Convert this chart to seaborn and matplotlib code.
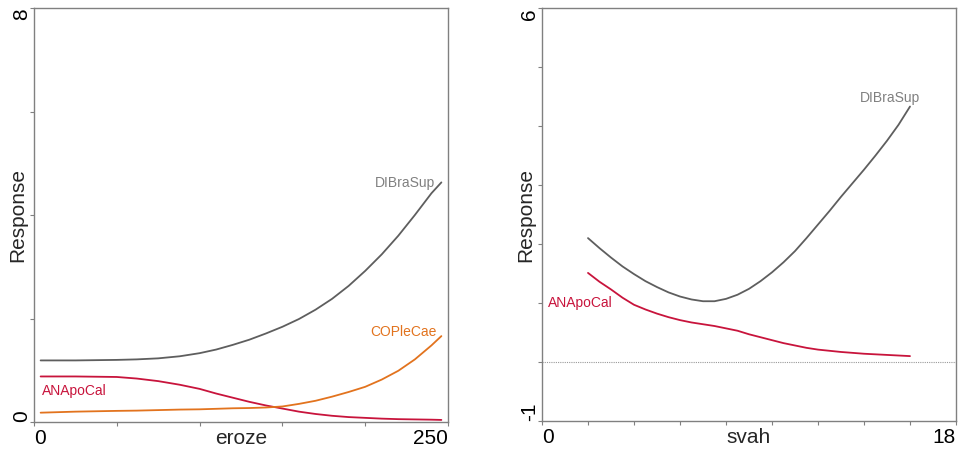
import matplotlib
matplotlib.use("Agg")
import matplotlib.pyplot as plt
import seaborn as sns
import pandas as pd

# levy panel - eroze
eroze_x = [4, 25, 50, 62, 75, 88, 100, 110, 120, 130, 140, 150, 160, 170, 180,
           190, 200, 210, 220, 230, 240, 246]
eroze_dibrasup = [1.19, 1.19, 1.20, 1.21, 1.23, 1.27, 1.33, 1.40, 1.49, 1.59, 1.71,
                  1.84, 1.99, 2.17, 2.38, 2.63, 2.92, 3.24, 3.60, 4.00, 4.42, 4.63]
eroze_anapocal = [0.88, 0.88, 0.87, 0.84, 0.79, 0.72, 0.64, 0.55, 0.47, 0.39, 0.32,
                  0.26, 0.20, 0.155, 0.12, 0.095, 0.08, 0.065, 0.055, 0.05, 0.045, 0.04]
eroze_coplecae = [0.18, 0.20, 0.215, 0.22, 0.23, 0.24, 0.245, 0.255, 0.265, 0.27, 0.28,
                  0.30, 0.35, 0.41, 0.49, 0.58, 0.68, 0.82, 0.99, 1.21, 1.48, 1.66]

# pravy panel - svah
svah_x = [2, 2.5, 3, 3.5, 4, 4.5, 5, 5.5, 6, 6.5, 7, 7.5, 8, 8.5, 9, 9.5, 10,
          10.5, 11, 11.5, 12, 12.5, 13, 13.5, 14, 14.5, 15, 15.5, 16]
svah_dibrasup = [2.10, 1.93, 1.77, 1.62, 1.49, 1.37, 1.27, 1.18, 1.11, 1.06, 1.03,
                 1.03, 1.07, 1.14, 1.24, 1.37, 1.52, 1.69, 1.88, 2.10, 2.33, 2.56,
                 2.80, 3.03, 3.26, 3.50, 3.75, 4.02, 4.33]
svah_anapocal = [1.51, 1.36, 1.23, 1.09, 0.97, 0.89, 0.82, 0.76, 0.71, 0.67, 0.64,
                 0.61, 0.57, 0.53, 0.47, 0.42, 0.37, 0.32, 0.28, 0.24, 0.21, 0.19,
                 0.17, 0.155, 0.14, 0.13, 0.12, 0.11, 0.10]

barvy = {"DIBraSup": "#5e5e5e", "ANApoCal": "#c8143c", "COPleCae": "#e2731e"}
barvy_popisku = {"DIBraSup": "#808080", "ANApoCal": "#c8143c", "COPleCae": "#e2731e"}

df1 = pd.DataFrame({
    "x": eroze_x * 3,
    "y": eroze_dibrasup + eroze_anapocal + eroze_coplecae,
    "druh": ["DIBraSup"] * len(eroze_x) + ["ANApoCal"] * len(eroze_x) + ["COPleCae"] * len(eroze_x),
})
df2 = pd.DataFrame({
    "x": svah_x * 2,
    "y": svah_dibrasup + svah_anapocal,
    "druh": ["DIBraSup"] * len(svah_x) + ["ANApoCal"] * len(svah_x),
})

sns.set_style("white")
plt.rcParams["font.family"] = ["Liberation Sans", "DejaVu Sans"]

fig = plt.figure(figsize=(9.61, 4.54), dpi=100)
ax1 = fig.add_axes([34 / 961, 32 / 454, 414 / 961, 414 / 454])
ax2 = fig.add_axes([542 / 961, 33 / 454, 414 / 961, 413 / 454])


def uprav_osu(ax, xlim, ylim, xt, yt, xlab):
    ax.set_xlim(*xlim)
    ax.set_ylim(*ylim)
    ax.set_xticks(xt)
    ax.set_yticks(yt)
    ax.set_xticklabels([str(xt[0])] + [""] * (len(xt) - 2) + [str(xt[-1])], fontsize=15)
    ax.set_yticklabels([str(yt[0])] + [""] * (len(yt) - 2) + [str(yt[-1])], fontsize=15,
                       rotation=90)
    xl = ax.get_xticklabels()
    xl[0].set_ha("left")
    xl[-1].set_ha("right")
    yl = ax.get_yticklabels()
    yl[0].set_va("bottom")
    yl[-1].set_va("top")
    for t in yl:
        t.set_ha("center")
    ax.tick_params(axis="both", direction="out", length=3, width=0.8, color="#808080",
                   pad=2, labelcolor="black", bottom=True, left=True)
    ax.tick_params(axis="y", pad=6)
    for s in ax.spines.values():
        s.set_color("#808080")
        s.set_linewidth(1.0)
    ax.set_xlabel(xlab, fontsize=15)
    ax.set_ylabel("Response", fontsize=15)
    ax.xaxis.set_label_coords(0.5, -0.018)
    ax.xaxis.label.set_va("top")
    ax.yaxis.set_label_coords(-0.039, 0.5)
    ax.yaxis.label.set_va("center")


sns.lineplot(data=df1, x="x", y="y", hue="druh", palette=barvy, linewidth=1.3,
             legend=False, ax=ax1)
uprav_osu(ax1, (0, 250), (0, 8), [0, 50, 100, 150, 200, 250], [0, 2, 4, 6, 8], "eroze")
ax1.text(242, 4.62, "DIBraSup", color=barvy_popisku["DIBraSup"], fontsize=10,
         ha="right", va="center")
ax1.text(243, 1.74, "COPleCae", color=barvy_popisku["COPleCae"], fontsize=10,
         ha="right", va="center")
ax1.text(5, 0.6, "ANApoCal", color=barvy_popisku["ANApoCal"], fontsize=10,
         ha="left", va="center")

sns.lineplot(data=df2, x="x", y="y", hue="druh", palette=barvy, linewidth=1.3,
             legend=False, ax=ax2)
ax2.axhline(0, color="#999999", linestyle=(0, (1, 1)), linewidth=0.8)
uprav_osu(ax2, (0, 18), (-1, 6), list(range(0, 19, 2)), list(range(-1, 7)), "svah")
ax2.text(16.45, 4.47, "DIBraSup", color=barvy_popisku["DIBraSup"], fontsize=10,
         ha="right", va="center")
ax2.text(0.27, 1.0, "ANApoCal", color=barvy_popisku["ANApoCal"], fontsize=10,
         ha="left", va="center")

fig.savefig("out.png", dpi=100)
